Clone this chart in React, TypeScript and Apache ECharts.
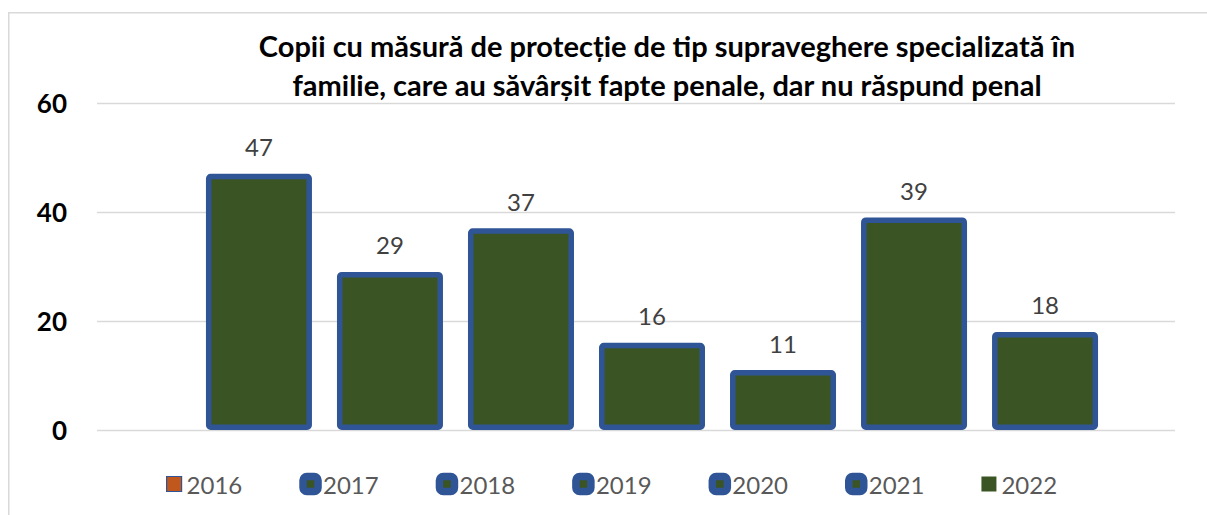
import React, { useEffect, useRef } from "react";
import * as echarts from "echarts";

const years = ["2016", "2017", "2018", "2019", "2020", "2021", "2022"];
const values = [47, 29, 37, 16, 11, 39, 18];
const yMin = 0;
const yMax = 60;
const yStep = 20;
const titleLines = [
  "Copii cu măsură de protecție de tip supraveghere specializată în",
  "familie, care au săvârșit fapte penale, dar nu răspund penal",
];

const GREEN = "#3A5424";
const BLUE = "#2F5597";
const ORANGE = "#C0581E";
const FONT = "Lato, 'Open Sans', sans-serif";

function legendItem(name: string, i: number) {
  if (i === 0) {
    return {
      name,
      icon: "rect",
      itemStyle: { color: ORANGE, borderColor: BLUE, borderWidth: 1.2 },
    };
  }
  if (i === years.length - 1) {
    return {
      name,
      icon: "rect",
      itemStyle: { color: GREEN, borderColor: GREEN, borderWidth: 0 },
    };
  }
  return {
    name,
    icon: "roundRect",
    itemStyle: { color: GREEN, borderColor: BLUE, borderWidth: 7.5 },
  };
}

export default function App() {
  const ref = useRef<HTMLDivElement>(null);
  useEffect(() => {
    if (!ref.current) return;
    const chart = echarts.init(ref.current, undefined, { renderer: "svg" });
    const series = years.map((y, i) => ({
      name: y,
      type: "bar",
      xAxisIndex: 1,
      yAxisIndex: 1,
      data: [values[i]],
      barWidth: 106,
      barGap: "23.6%",
      itemStyle: {
        color: GREEN,
        borderColor: BLUE,
        borderWidth: 5.5,
        borderRadius: 2,
      },
      label: {
        show: true,
        position: "top",
        distance: 15,
        color: "#404040",
        fontSize: 24,
        fontFamily: FONT,
      },
    }));
    chart.setOption({
      animation: false,
      backgroundColor: "#fff",
      grid: [
        { left: 97, right: 32, top: 103, bottom: 85 },
        { left: 129, right: 32, top: 103, bottom: 85 },
      ],
      xAxis: [
        { gridIndex: 0, type: "category", data: [""], show: false },
        { gridIndex: 1, type: "category", data: [""], show: false },
      ],
      yAxis: [
        {
          gridIndex: 0,
          type: "value",
          min: yMin,
          max: yMax,
          interval: yStep,
          axisLine: { show: false },
          axisTick: { show: false },
          axisLabel: {
            margin: 30,
            color: "#000",
            fontWeight: "bold",
            fontSize: 26,
            fontFamily: FONT,
          },
          splitLine: { lineStyle: { color: "#D9D9D9", width: 1.3 } },
        },
        {
          gridIndex: 1,
          type: "value",
          min: yMin,
          max: yMax,
          interval: yStep,
          show: false,
          splitLine: { show: false },
        },
      ],
      legend: {
        left: 161,
        top: 467,
        itemWidth: 15,
        itemHeight: 15,
        itemGap: 57,
        data: years.map((y, i) => legendItem(y, i)),
        textStyle: { color: "#595959", fontSize: 24, fontFamily: FONT },
        selectedMode: false,
      },
      graphic: [
        {
          type: "rect",
          shape: { x: 8.75, y: 12.75, width: 1400, height: 700 },
          style: { fill: "none", stroke: "#D9D9D9", lineWidth: 1.5 },
          silent: true,
        },
        ...titleLines.map((t, i) => ({
          type: "text",
          x: 667,
          y: 45 + i * 39,
          style: {
            text: t,
            textAlign: "center",
            textVerticalAlign: "middle",
            fill: "#000",
            font: `bold 29px ${FONT}`,
          },
        })),
      ],
      series,
    });
    return () => chart.dispose();
  }, []);
  return (
    <div
      ref={ref}
      style={{ position: "fixed", left: 0, top: 0, width: 1207, height: 515 }}
    />
  );
}
